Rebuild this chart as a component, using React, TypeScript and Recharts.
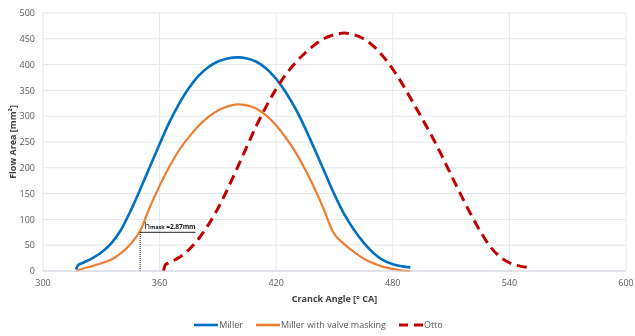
import {
  CartesianGrid,
  Legend,
  Line,
  LineChart,
  ReferenceLine,
  XAxis,
  YAxis,
} from 'recharts';

// crank angle [° CA] / flow area [mm²] per valve strategy
const millerAngle = [
  317, 318, 320, 325, 330, 335, 340, 345, 350, 355, 360, 365, 370, 375, 380, 385, 390, 395, 400,
  405, 410, 415, 420, 425, 430, 435, 440, 445, 450, 455, 460, 465, 470, 475, 480, 485, 489,
];
const millerArea = [
  3, 11, 15, 24, 36, 53, 79, 116, 158, 202, 246, 288, 324, 354, 378, 395, 406, 412, 414,
  412, 405, 392, 372, 346, 314, 276, 234, 191, 148, 110, 80, 55, 35, 21, 13, 9, 7,
];

const maskedAngle = [
  317, 320, 325, 330, 335, 340, 345, 350, 355, 360, 365, 370, 375, 380, 385, 390, 395, 400,
  405, 410, 415, 420, 425, 430, 435, 440, 445, 449, 455, 460, 465, 470, 475, 480, 485, 489,
];
const maskedArea = [
  0, 4, 9, 15, 22, 34, 52, 78, 124, 165, 202, 234, 259, 281, 298, 311, 319, 323,
  321, 314, 301, 282, 258, 230, 196, 158, 115, 77, 52, 37, 24, 15, 8, 4, 1, 0,
];

const ottoAngle = [
  362, 363, 365, 370, 375, 380, 385, 390, 395, 400, 405, 410, 415, 420, 425, 430, 435, 440, 445,
  450, 455, 460, 465, 470, 475, 480, 485, 490, 495, 500, 505, 510, 515, 520, 525, 530, 535, 540,
  545, 549,
];
const ottoArea = [
  0, 12, 16, 26, 41, 62, 89, 121, 159, 200, 242, 283, 320, 353, 381, 404, 423, 439, 451,
  458, 461, 458, 450, 436, 416, 391, 362, 329, 296, 262, 225, 186, 148, 111, 77, 48, 28, 16,
  10, 7,
];

const xTicks = [300, 360, 420, 480, 540, 600];
const yTicks = [0, 50, 100, 150, 200, 250, 300, 350, 400, 450, 500];

// valve lift where masking starts
const maskAngle = 350;
const maskArea = 78;
const maskLift = '2.87mm';

const toPoints = (angles: number[], areas: number[]) =>
  angles.map((angle, i) => ({ angle, area: areas[i] }));

const series = [
  { name: 'Miller', color: '#0070C0', width: 2.6, dash: undefined, data: toPoints(millerAngle, millerArea) },
  { name: 'Miller with valve masking', color: '#ED7D31', width: 2.2, dash: undefined, data: toPoints(maskedAngle, maskedArea) },
  { name: 'Otto', color: '#C00000', width: 3, dash: '10 6', data: toPoints(ottoAngle, ottoArea) },
];

const FONT = '"Open Sans", "Noto Sans", sans-serif';
const TICK = { fill: '#595959', fontSize: 9 };

const YTitle = (props: any) => {
  const { viewBox } = props;
  const cx = 12;
  const cy = viewBox.y + viewBox.height / 2;
  return (
    <text
      x={cx}
      y={cy}
      transform={`rotate(-90 ${cx} ${cy})`}
      textAnchor="middle"
      dominantBaseline="central"
      fill="#404040"
      fontSize={9}
      fontWeight="bold"
    >
      Flow Area [mm²]
    </text>
  );
};

const MaskLabel = (props: any) => {
  const { viewBox } = props;
  const x = viewBox.x + 4;
  const y = viewBox.y - 3;
  return (
    <text x={x} y={y} fill="#1a1a1a" fontSize={6.6} fontWeight="bold" letterSpacing={-0.1}>
      <tspan fontSize={9.5} fontWeight="normal">h</tspan>
      <tspan fontSize={5.6}>mask</tspan>
      <tspan> =</tspan>
      <tspan>{maskLift}</tspan>
    </text>
  );
};

const LegendRow = () => (
  <div
    style={{
      display: 'flex',
      justifyContent: 'center',
      alignItems: 'center',
      gap: 13,
      fontSize: 9,
      color: '#595959',
      fontFamily: FONT,
      paddingTop: 8,
      paddingLeft: 11,
    }}
  >
    {series.map((s) => (
      <div key={s.name} style={{ display: 'flex', alignItems: 'center' }}>
        <svg width={24} height={6} style={{ marginRight: 1 }}>
          <line
            x1={0}
            y1={3}
            x2={24}
            y2={3}
            stroke={s.color}
            strokeWidth={s.dash ? 3 : 2.6}
            strokeDasharray={s.dash ? '9 6' : undefined}
          />
        </svg>
        <span>{s.name}</span>
      </div>
    ))}
  </div>
);

export default function App() {
  return (
    <div style={{ position: 'fixed', left: 0, top: 0 }}>
      <LineChart
        width={635}
        height={336}
        margin={{ top: 13, right: 9, bottom: 2, left: 0 }}
        style={{ fontFamily: FONT }}
      >
        <CartesianGrid stroke="#E3E6EC" strokeWidth={1} />
        <XAxis
          dataKey="angle"
          type="number"
          domain={[300, 600]}
          ticks={xTicks}
          allowDuplicatedCategory={false}
          tick={TICK}
          tickLine={false}
          tickSize={0}
          tickMargin={9}
          axisLine={{ stroke: '#D0D4DC' }}
          height={39}
          label={{
            value: 'Cranck Angle [° CA]',
            position: 'insideBottom',
            offset: 8,
            fill: '#404040',
            fontSize: 9,
            fontWeight: 'bold',
          }}
        />
        <YAxis
          type="number"
          domain={[0, 500]}
          ticks={yTicks}
          tick={TICK}
          tickLine={false}
          tickSize={0}
          tickMargin={8}
          axisLine={false}
          width={43}
          label={<YTitle />}
        />
        <Legend verticalAlign="bottom" height={24} content={<LegendRow />} />
        {series.map((s) => (
          <Line
            key={s.name}
            name={s.name}
            data={s.data}
            dataKey="area"
            type="monotone"
            stroke={s.color}
            strokeWidth={s.width}
            strokeDasharray={s.dash}
            dot={false}
            activeDot={false}
            isAnimationActive={false}
          />
        ))}
        <ReferenceLine
          segment={[
            { x: maskAngle, y: 0 },
            { x: maskAngle, y: maskArea },
          ]}
          stroke="#222"
          strokeWidth={1}
          strokeDasharray="1 1"
        />
        <ReferenceLine
          segment={[
            { x: maskAngle, y: maskArea - 3 },
            { x: maskAngle + 28.5, y: maskArea - 3 },
          ]}
          stroke="#222"
          strokeWidth={1}
          label={<MaskLabel />}
        />
      </LineChart>
    </div>
  );
}
